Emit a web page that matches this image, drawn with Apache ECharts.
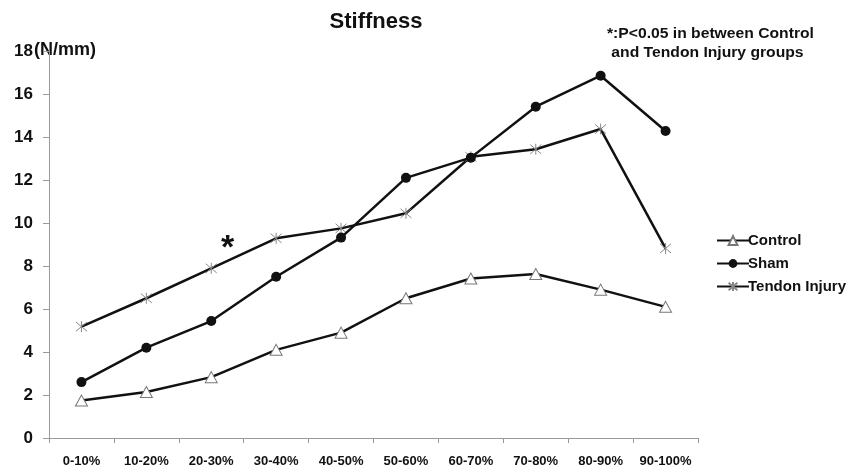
<!DOCTYPE html>
<html>
<head>
<meta charset="utf-8">
<script src="https://cdn.jsdelivr.net/npm/echarts@6/dist/echarts.min.js"></script>
<style>html,body{margin:0;padding:0;background:#fff}#c{width:862px;height:469px}</style>
</head>
<body>
<div id="c"></div>
<script>
const categories = ['0-10%','10-20%','20-30%','30-40%','40-50%','50-60%','60-70%','70-80%','80-90%','90-100%'];
const controlValues = [1.74, 2.14, 2.83, 4.1, 4.9, 6.5, 7.42, 7.63, 6.9, 6.1];
const shamValues = [2.6, 4.2, 5.44, 7.5, 9.32, 12.1, 13.04, 15.41, 16.85, 14.28];
const tendonValues = [5.18, 6.5, 7.89, 9.29, 9.75, 10.45, 13.08, 13.43, 14.37, 8.82];
const yTicks = [0, 2, 4, 6, 8, 10, 12, 14, 16, 18];

const FONT = '"Liberation Sans", Arial, sans-serif';
const chart = echarts.init(document.getElementById('c'), null, {renderer: 'canvas'});
const asteriskPath = 'path://M0,0 L10,10 M10,0 L0,10 M5,-1 L5,11';

chart.setOption({
  animation: false,
  backgroundColor: '#fff',
  textStyle: {fontFamily: FONT},
  grid: {left: 49, right: 164, top: 51, bottom: 31, containLabel: false},
  legend: {
    orient: 'vertical',
    left: 711,
    top: 228,
    itemGap: 8,
    itemWidth: 32,
    itemHeight: 11,
    textStyle: {fontFamily: FONT, fontWeight: 'bold', fontSize: 15, color: '#111', padding: [0,0,0,-6]},
    data: ['Control', 'Sham', 'Tendon Injury']
  },
  xAxis: {
    type: 'category',
    data: categories,
    boundaryGap: true,
    axisLine: {lineStyle: {color: '#9a9a9a', width: 1}},
    axisTick: {show: true, length: 5, interval: 0, lineStyle: {color: '#9a9a9a'}},
    axisLabel: {interval: 0, margin: 17, fontFamily: FONT, fontWeight: 'bold', fontSize: 13, color: '#111'},
    splitLine: {show: false}
  },
  yAxis: {
    type: 'value',
    min: yTicks[0],
    max: yTicks[yTicks.length - 1],
    interval: yTicks[1] - yTicks[0],
    axisLine: {show: true, lineStyle: {color: '#9a9a9a', width: 1}},
    axisTick: {show: true, length: 6, lineStyle: {color: '#9a9a9a'}},
    axisLabel: {margin: 16, fontFamily: FONT, fontWeight: 'bold', fontSize: 17, color: '#111'},
    splitLine: {show: false}
  },
  graphic: [
    {type: 'text', x: 376, y: 11, style: {text: 'Stiffness', font: 'bold 22px ' + FONT, fill: '#111', textAlign: 'center'}},
    {type: 'text', left: 34, top: 41, style: {text: '(N/mm)', font: 'bold 18px ' + FONT, fill: '#111'}},
    {type: 'text', x: 607, y: 25, scaleX: 1.12, style: {text: '*:P<0.05 in between Control\n and Tendon Injury groups', font: 'bold 14px ' + FONT, fill: '#111', lineHeight: 19}},
    {type: 'text', left: 221, top: 232, style: {text: '*', font: 'bold 34px ' + FONT, fill: '#111'}}
  ],
  series: [
    {
      name: 'Control', type: 'line', data: controlValues,
      symbol: 'triangle', symbolSize: [12, 11], showAllSymbol: true,
      lineStyle: {color: '#111', width: 2.5},
      itemStyle: {color: '#fff', borderColor: '#777', borderWidth: 1},
      z: 3
    },
    {
      name: 'Sham', type: 'line', data: shamValues,
      symbol: 'circle', symbolSize: 10, showAllSymbol: true,
      lineStyle: {color: '#111', width: 2.5},
      itemStyle: {color: '#111', borderColor: '#111', borderWidth: 0},
      z: 3
    },
    {
      name: 'Tendon Injury', type: 'line', data: tendonValues,
      symbol: asteriskPath, symbolSize: 11, showAllSymbol: true,
      lineStyle: {color: '#111', width: 2.5},
      itemStyle: {color: 'rgba(0,0,0,0)', borderColor: '#888', borderWidth: 1},
      z: 2
    }
  ]
});
</script>
</body>
</html>
